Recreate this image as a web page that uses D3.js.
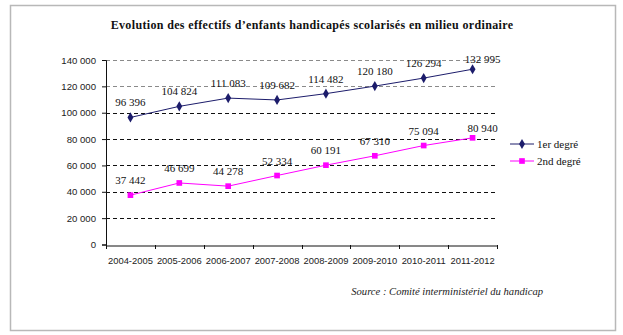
<!DOCTYPE html>
<html>
<head>
<meta charset="utf-8">
<script src="https://cdn.jsdelivr.net/npm/d3@7"></script>
<style>
  html, body { margin: 0; padding: 0; background: #fff; }
  svg { display: block; }
</style>
</head>
<body>
<svg id="chart" width="623" height="335"></svg>
<script>
// School years on the x axis
const years = ["2004-2005", "2005-2006", "2006-2007", "2007-2008",
               "2008-2009", "2009-2010", "2010-2011", "2011-2012"];
// Pupils in primary education (1er degré)
const premierDegre = [96396, 104824, 111083, 109682, 114482, 120180, 126294, 132995];
// Pupils in secondary education (2nd degré)
const secondDegre = [37442, 46699, 44278, 52334, 60191, 67310, 75094, 80940];
// Y axis ticks
const yTicks = [0, 20000, 40000, 60000, 80000, 100000, 120000, 140000];
const seriesNames = ["1er degré", "2nd degré"];

const fr = d3.formatLocale({ decimal: ",", thousands: " ", grouping: [3], currency: ["", " €"] });
const fmt = fr.format(",d");

const svg = d3.select("#chart");

// outer frame
svg.append("rect")
  .attr("x", 10.5).attr("y", 5.5).attr("width", 605).attr("height", 325)
  .attr("fill", "#fff").attr("stroke", "#b8b8b8").attr("stroke-width", 1.5);

// title
svg.append("text")
  .attr("x", 312).attr("y", 29)
  .attr("text-anchor", "middle")
  .attr("font-family", "Liberation Serif, Times New Roman, serif")
  .attr("font-weight", "bold")
  .attr("font-size", 12)
  .attr("letter-spacing", 0.35)
  .attr("fill", "#111")
  .text("Evolution des effectifs d\u2019enfants handicapés scolarisés en milieu ordinaire");

const x = d3.scaleBand().domain(years).range([106, 497]);
const y = d3.scaleLinear().domain([0, 140000]).range([244.5, 60]);
const cx = d => x(d) + x.bandwidth() / 2;

// horizontal dashed gridlines
svg.append("g").selectAll("line")
  .data(yTicks.filter(t => t > 0))
  .join("line")
  .attr("x1", 106).attr("x2", 497)
  .attr("y1", d => Math.round(y(d)) + 0.5).attr("y2", d => Math.round(y(d)) + 0.5)
  .attr("stroke", d => d >= 120000 ? "#8a8a8a" : "#111")
  .attr("stroke-width", 1)
  .attr("stroke-dasharray", "4,3");

// y axis
const yAxis = svg.append("g")
  .attr("transform", "translate(106,0)")
  .call(d3.axisLeft(y).tickValues(yTicks).tickFormat(fmt).tickSize(4).tickPadding(6));
yAxis.selectAll("text")
  .attr("font-family", "Liberation Sans, Arial, sans-serif")
  .attr("font-size", 9.6).attr("fill", "#222");
yAxis.selectAll("line,path").attr("stroke", "#111");

// x axis
const xAxis = svg.append("g")
  .attr("transform", `translate(0,${Math.round(y(0)) + 0.5})`)
  .call(d3.axisBottom(x).tickSize(0).tickPadding(12));
xAxis.select(".domain").attr("stroke", "#111");
xAxis.selectAll("text")
  .attr("font-family", "Liberation Sans, Arial, sans-serif")
  .attr("font-size", 9.4).attr("fill", "#222");
// tick marks at category boundaries
svg.append("g").selectAll("line")
  .data(years.concat(["end"]))
  .join("line")
  .attr("x1", (d, i) => Math.round(106 + i * x.bandwidth()) + 0.5)
  .attr("x2", (d, i) => Math.round(106 + i * x.bandwidth()) + 0.5)
  .attr("y1", Math.round(y(0))).attr("y2", Math.round(y(0)) + 4)
  .attr("stroke", "#111");

const series = [
  { name: seriesNames[0], values: premierDegre, color: "#1c1c6b", marker: d3.symbolDiamond, size: 30 },
  { name: seriesNames[1], values: secondDegre, color: "#ff00ff", marker: d3.symbolSquare, size: 32 }
];

const line = d3.line().x((d, i) => cx(years[i])).y(d => y(d));

series.forEach(s => {
  const g = svg.append("g");
  g.append("path")
    .attr("d", line(s.values))
    .attr("fill", "none").attr("stroke", s.color).attr("stroke-width", 1);
  g.selectAll("path.m")
    .data(s.values)
    .join("path").attr("class", "m")
    .attr("transform", (d, i) => `translate(${cx(years[i])},${y(d)})`)
    .attr("d", d3.symbol().type(s.marker).size(s.size))
    .attr("fill", s.color);
  // value labels
  g.selectAll("text")
    .data(s.values)
    .join("text")
    .attr("x", (d, i) => cx(years[i]) + (i === years.length - 1 ? 10 : 0))
    .attr("y", (d, i) => y(d) - (i === years.length - 1 ? 6 : 11))
    .attr("text-anchor", "middle")
    .attr("font-family", "Liberation Serif, Times New Roman, serif")
    .attr("font-size", 11).attr("fill", "#111")
    .text(d => fmt(d));
});

// legend
const lg = svg.append("g");
series.forEach((s, i) => {
  const ly = 144 + i * 17;
  lg.append("line").attr("x1", 510).attr("x2", 534).attr("y1", ly).attr("y2", ly)
    .attr("stroke", s.color).attr("stroke-width", 1);
  lg.append("path").attr("transform", `translate(522,${ly})`)
    .attr("d", d3.symbol().type(s.marker).size(s.size)).attr("fill", s.color);
  lg.append("text").attr("x", 537).attr("y", ly + 4)
    .attr("font-family", "Liberation Serif, Times New Roman, serif")
    .attr("font-size", 11).attr("fill", "#111")
    .text(s.name);
});

// source note
svg.append("text")
  .attr("x", 543).attr("y", 295)
  .attr("text-anchor", "end")
  .attr("font-family", "Liberation Serif, Times New Roman, serif")
  .attr("font-style", "italic")
  .attr("font-size", 10.6).attr("fill", "#222")
  .text("Source : Comité interministériel du handicap");
</script>
</body>
</html>
